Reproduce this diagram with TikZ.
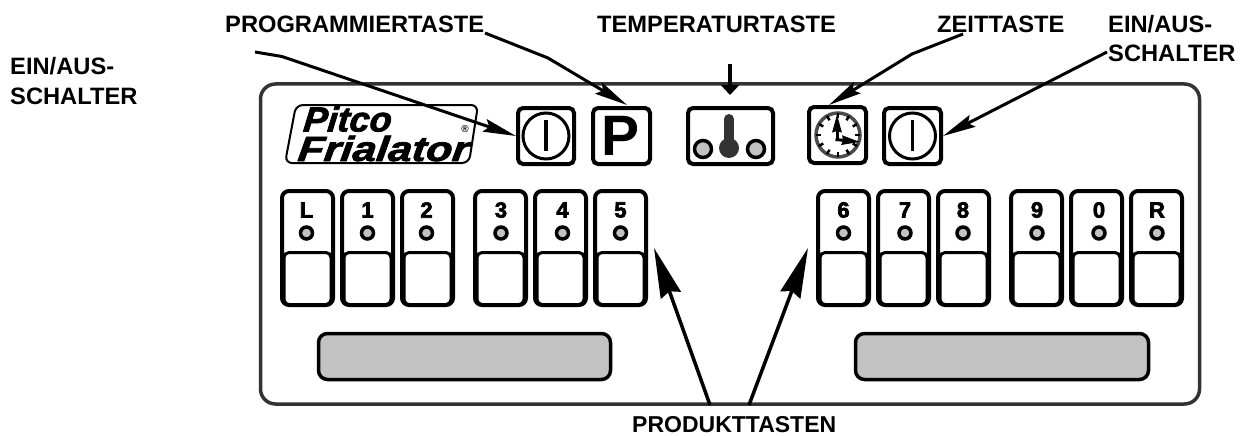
\documentclass[tikz,border=0pt]{standalone}
\usepackage{fontspec}
\setmainfont{Liberation Sans}
\newfontfamily\logofont[UprightFont=* Bold Italic,UprightFeatures={FakeBold=2}]{Liberation Sans}
\newfontfamily\keyfont[UprightFont=* Bold,UprightFeatures={FakeBold=3}]{Liberation Sans}
\usetikzlibrary{arrows.meta,calc}
\definecolor{dither}{gray}{0.76}
\definecolor{panelline}{gray}{0.2}
\tikzset{
  lbl/.style={font=\fontsize{23.7}{30}\selectfont\bfseries,text=black,inner sep=0pt,align=left},
  shell/.style={draw=black,line width=4pt,fill=white,rounded corners=7pt,inner sep=0pt,minimum width=51pt,minimum height=114pt},
  lowkey/.style={draw=black,line width=3pt,fill=white,rounded corners=5pt,inner sep=0pt,minimum width=47pt,minimum height=52pt},
  led/.style={circle,draw=black,line width=3.5pt,fill=dither,inner sep=0pt,minimum size=12pt},
  keylbl/.style={font=\keyfont\fontsize{22}{22}\selectfont,inner sep=0pt},
  iconbox/.style={draw=black,line width=4pt,fill=white,rounded corners=5pt,inner sep=0pt,minimum height=56pt},
  dispbox/.style={draw=black,line width=3.5pt,fill=dither,rounded corners=9pt,inner sep=0pt,minimum height=46pt},
  ring/.style={circle,draw=black,line width=3pt,inner sep=0pt,minimum size=46pt},
  thin arrow/.style={draw=black,line width=3pt,-{Stealth[length=33pt,width=13pt,inset=5pt]}},
  big arrow/.style={draw=black,line width=3.5pt,-{Stealth[length=50pt,width=21pt,inset=4pt]}},
}
\newcommand{\prodkey}[4]{%
  \node[shell] (k#1) at (#2,248) {};
  \node[lowkey] (low#1) at (#2,278.5) {};
  \node[led] (led#1) at (#3,233) {};
  \node[keylbl] (lab#1) at (#3,210) {#4};
}
\newcommand{\powericon}[2]{%
  \node[ring] (ring#1) at (#2,136) {};
  \draw[line width=3.5pt] (#2,120) -- (#2,151);
}
\begin{document}
\begin{tikzpicture}[x=1pt,y=-1pt]
\useasboundingbox (0,0) rectangle (1240,436);
% panel
\node[draw=panelline,line width=3.5pt,rounded corners=15pt,inner sep=0pt,minimum width=939pt,minimum height=320pt] (panel) at (730,244) {};
% logo
\draw[black,line width=2pt,rounded corners=7pt] (296,105) -- (478,105) -- (469,163) -- (285,163) -- cycle;
\node[inner sep=0pt,xscale=1.03,xslant=0.1,font=\logofont\fontsize{35}{35}\selectfont] (pitco) at (348,119) {Pitco};
\node[inner sep=0pt,xscale=1.22,xslant=0.1,font=\logofont\fontsize{35}{35}\selectfont] (frial) at (384,148.5) {Frialator};
\node[inner sep=0pt,font=\fontsize{10}{10}\selectfont\bfseries] (reg) at (465,129) {®};
% top icons
\node[iconbox,minimum width=56pt] (pw1) at (546,136) {};
\powericon{A}{546}
\node[iconbox,minimum width=57pt] (pkey) at (621.5,136) {};
\node[inner sep=0pt,font=\fontsize{57}{57}\selectfont\bfseries] (plet) at (621,136) {P};
\node[iconbox,minimum width=85pt] (temp) at (730.5,136) {};
\draw[black!80,line width=10pt,line cap=round] (729,119) -- (729,145);
\node[circle,fill=black!80,inner sep=0pt,minimum size=20pt] (bulb) at (729,148) {};
\node[circle,draw=black,line width=3.5pt,fill=dither,inner sep=0pt,minimum size=17pt] (tl) at (703,149) {};
\node[circle,draw=black,line width=3.5pt,fill=dither,inner sep=0pt,minimum size=17pt] (tr) at (756,149) {};
\node[iconbox,minimum width=57pt,minimum height=56pt] (clockbox) at (837.5,135) {};
\node[circle,draw=black!70,line width=3.5pt,inner sep=0pt,minimum size=44pt] (clockface) at (838,135) {};
\foreach \a in {0,30,...,330}{
  \draw[black,line width=2.5pt] ($(838,135)+(\a:22)$) -- ($(838,135)+(\a:17)$);
}
\draw[black,line width=3pt,-{Stealth[length=18pt,width=9pt,inset=1pt]}] (837,141) -- (837,114);
\draw[black,line width=3pt,-{Stealth[length=18pt,width=9pt,inset=1pt]}] (835.5,139.5) -- (860,142);
\node[iconbox,minimum width=57pt] (pw2) at (912.5,136) {};
\powericon{B}{912.5}
% product keys
\prodkey{L}{307.5}{306.5}{L}
\prodkey{1}{367.5}{367.5}{1}
\prodkey{2}{427.5}{426.5}{2}
\prodkey{3}{500.5}{501}{3}
\prodkey{4}{560.5}{562.5}{4}
\prodkey{5}{620.5}{620.5}{5}
\prodkey{6}{843.5}{843.5}{6}
\prodkey{7}{903.5}{905}{7}
\prodkey{8}{963.5}{963}{8}
\prodkey{9}{1036.5}{1037}{9}
\prodkey{0}{1096.5}{1099}{0}
\prodkey{R}{1156.5}{1157}{R}
% displays
\node[dispbox,minimum width=292pt] (dl) at (464.5,356.5) {};
\node[dispbox,minimum width=293pt] (dr) at (1002,356.5) {};
% labels
\node[lbl,anchor=west] (lprog) at (225,24) {PROGRAMMIERTASTE};
\node[lbl,anchor=west] (ltemp) at (597,24) {TEMPERATURTASTE};
\node[lbl,anchor=west] (lzeit) at (937,24) {ZEITTASTE};
\node[lbl,anchor=west] (lein) at (1108,24) {EIN/AUS-};
\node[lbl,anchor=west] (lsch) at (1108,53) {SCHALTER};
\node[lbl,anchor=west] (lein2) at (10,66) {EIN/AUS-};
\node[lbl,anchor=west] (lsch2) at (10,96) {SCHALTER};
\node[lbl,anchor=west,font=\fontsize{23}{30}\selectfont\bfseries] (lprod) at (632,425) {PRODUKTTASTEN};
% connector points
\coordinate (s1) at (255,52);
\coordinate (s1k) at (282,56.5);
\coordinate (s2) at (485,33);
\coordinate (s2k) at (548,58);
\coordinate (s3) at (963,34);
\coordinate (s3k) at (912,54);
\coordinate (s4) at (1107,52);
\coordinate (tp) at (627,105);
\coordinate (tz) at (829,105);
\coordinate (s5) at (710,405);
\coordinate (s6) at (749,405);
\coordinate (t5) at (654,248);
\coordinate (t6) at (808,248);
\coordinate (s7) at (730,64);
% connectors
\draw[thin arrow] (s1) -- (s1k) -- (pw1.west);
\draw[thin arrow] (s2) -- (s2k) -- (tp);
\draw[thin arrow] (s3) -- (s3k) -- (tz);
\draw[thin arrow] (s4) -- (pw2.east);
\draw[big arrow] (s5) -- (t5);
\draw[big arrow] (s6) -- (t6);
\draw[draw=black,line width=4pt,-{Triangle[length=10pt,width=18pt]}] (s7) -- (730,95);
\end{tikzpicture}
\end{document}
